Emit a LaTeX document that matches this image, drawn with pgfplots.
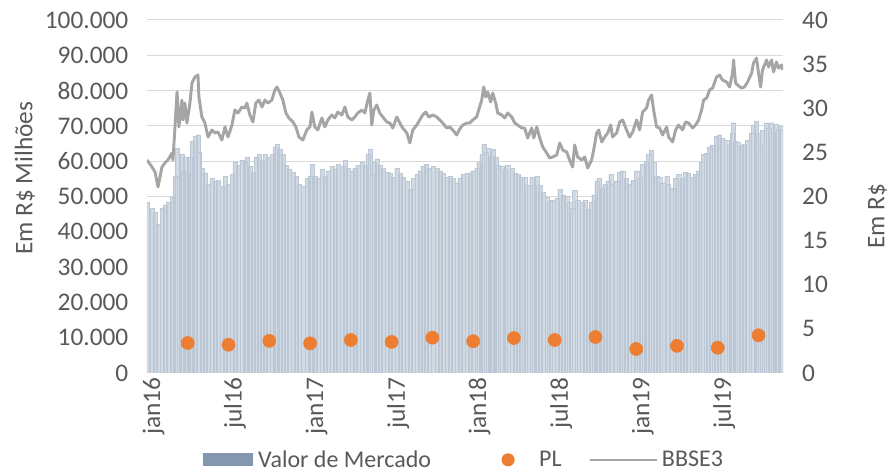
\documentclass[border=0pt]{standalone}
\usepackage{fontspec}
\setmainfont{Carlito}
\usepackage{pgfplots}
\usepackage{pgfplotstable}
\pgfplotsset{compat=1.18}
\definecolor{txt}{HTML}{595959}
\definecolor{gridc}{HTML}{D9D9D9}
\definecolor{barfill}{HTML}{D1D9E3}
\definecolor{barline}{HTML}{BCC7D5}
\definecolor{legbar}{HTML}{8497B0}
\definecolor{plc}{HTML}{ED7D31}
\definecolor{linc}{HTML}{A5A5A5}

\pgfplotstableread{
m mv px
0.00 48300 24.14
0.37 46700 23.34
0.59 45500 22.78
0.81 42200 21.08
1.10 46700 23.34
1.32 47600 23.80
1.54 48300 24.14
1.84 49900 24.93
1.91 48300 24.14
2.06 55800 27.88
2.21 63700 31.84
2.35 55800 27.88
2.57 61900 30.93
2.65 57300 28.67
2.79 61200 30.59
2.94 56700 28.33
3.16 61200 30.59
3.31 65700 32.86
3.53 67100 33.54
3.75 67500 33.77
3.82 62500 31.27
4.04 58000 29.01
4.26 56700 28.33
4.49 53500 26.74
4.78 55100 27.54
5.00 54400 27.20
5.22 54600 27.31
5.51 52800 26.40
5.74 55800 27.88
5.96 53500 26.74
6.25 56200 28.10
6.47 59600 29.80
6.69 58900 29.46
6.99 60300 30.14
7.21 60100 30.03
7.35 61200 30.59
7.57 58500 29.24
7.79 56900 28.44
8.01 61200 30.59
8.24 61900 30.93
8.46 60300 30.14
8.68 61900 30.93
8.90 61200 30.59
9.19 61900 30.93
9.41 64100 32.07
9.56 64800 32.41
9.78 63500 31.73
10.00 61900 30.93
10.22 58900 29.46
10.44 57800 28.90
10.74 56900 28.44
10.96 55800 27.88
11.18 53500 26.74
11.47 52800 26.40
11.76 55100 27.54
11.99 55800 27.88
12.13 59100 29.57
12.35 55800 27.88
12.57 55100 27.54
12.87 57800 28.90
13.09 55800 27.88
13.31 57300 28.67
13.60 58500 29.24
13.82 57800 28.90
14.04 59100 29.57
14.34 58500 29.24
14.56 60300 30.14
14.78 58000 29.01
15.07 57300 28.67
15.29 58000 29.01
15.51 58900 29.46
15.81 59600 29.80
16.03 58900 29.46
16.25 61900 30.93
16.40 63500 31.73
16.54 56200 28.10
16.69 59600 29.80
16.91 60700 30.37
17.13 58900 29.46
17.35 58000 29.01
17.65 56900 28.44
17.87 56700 28.33
18.09 55500 27.76
18.38 58000 29.01
18.60 56700 28.33
18.82 55500 27.76
19.12 54400 27.20
19.34 52100 26.06
19.56 55100 27.54
19.85 56200 28.10
20.07 57300 28.67
20.29 58500 29.24
20.51 59100 29.57
20.74 58000 29.01
21.03 58500 29.24
21.32 58000 29.01
21.54 57300 28.67
21.76 56700 28.33
22.06 55500 27.76
22.28 55800 27.88
22.50 55100 27.54
22.79 53900 26.97
23.01 55300 27.65
23.24 56200 28.10
23.53 56700 28.33
23.75 56700 28.33
23.97 57300 28.67
24.26 58000 29.01
24.41 59600 29.80
24.63 61900 30.93
24.78 64800 32.41
24.93 62500 31.27
25.07 63700 31.84
25.29 61400 30.71
25.44 63500 31.73
25.66 61200 30.59
25.81 58900 29.46
26.10 58500 29.24
26.32 57800 28.90
26.54 58900 29.46
26.84 58000 29.01
27.06 56700 28.33
27.28 56200 28.10
27.57 55500 27.76
27.79 55500 27.76
28.01 53300 26.63
28.31 55500 27.76
28.46 53300 26.63
28.68 55800 27.88
28.90 53300 26.63
29.12 51200 25.61
29.41 49900 24.93
29.63 48700 24.36
29.85 49000 24.48
30.15 49400 24.70
30.37 52100 26.06
30.59 50500 25.27
30.88 50100 25.04
31.10 48300 24.14
31.32 46700 23.34
31.47 51700 25.84
31.69 49000 24.48
31.99 48300 24.14
32.21 49000 24.48
32.43 46500 23.23
32.72 48300 24.14
32.87 50500 25.27
33.09 54400 27.20
33.24 55100 27.54
33.46 52400 26.18
33.68 53500 26.74
33.90 54400 27.20
34.12 56200 28.10
34.26 53500 26.74
34.56 54400 27.20
34.78 56900 28.44
35.00 57300 28.67
35.29 55100 27.54
35.51 53500 26.74
35.74 54600 27.31
36.03 57300 28.67
36.25 55100 27.54
36.47 59100 29.57
36.76 60100 30.03
36.91 61900 30.93
37.13 63000 31.50
37.28 59600 29.80
37.50 55800 27.88
37.72 55500 27.76
37.94 53900 26.97
38.24 55800 27.88
38.38 53500 26.74
38.68 52400 26.18
38.90 55100 27.54
39.12 56200 28.10
39.41 55100 27.54
39.63 56900 28.44
39.85 56700 28.33
40.15 55500 27.76
40.37 56200 28.10
40.59 57300 28.67
40.81 59600 29.80
40.96 61900 30.93
41.18 62300 31.16
41.40 64100 32.07
41.62 64600 32.29
41.91 67100 33.54
42.13 67500 33.77
42.35 66400 33.20
42.65 65900 32.97
42.87 64800 32.41
43.09 68000 33.99
43.16 70900 35.47
43.31 65700 32.86
43.46 65300 32.63
43.75 64600 32.29
43.97 64800 32.41
44.19 65900 32.97
44.49 68000 33.99
44.63 70300 35.13
44.85 71400 35.69
45.00 68000 33.99
45.15 64800 32.41
45.29 68700 34.33
45.59 70900 35.47
45.74 69300 34.67
45.96 70900 35.47
46.10 68200 34.11
46.32 70500 35.24
46.47 69100 34.56
46.69 69800 34.90
46.76 68700 34.33
}\data

\pgfplotstableread{
m pl
3 8500
6 8000
9 9100
12 8400
15 9350
18 8800
21 10000
24 9000
27 9900
30 9350
33 10200
36 6800
39 7700
42 7150
45 10700
}\pldata

\begin{document}
\begin{tikzpicture}[font=\fontsize{19}{22}\selectfont, text=txt]
\begin{axis}[name=main,
  scale only axis, width=477pt, height=264.75pt,
  xmin=0, xmax=46.8, ymin=0, ymax=100000,
  axis x line*=bottom, axis y line*=left,
  x axis line style={draw=gridc, line width=0.75pt},
  y axis line style={draw=none},
  major tick length=0pt,
  ytick={0,10000,...,100000},
  ymajorgrids, grid style={draw=gridc, line width=0.75pt},
  scaled y ticks=false,
  yticklabel={\pgfmathprintnumber[fixed, precision=0, 1000 sep={.}, assume math mode=true]{\tick}},
  yticklabel style={xshift=-10.5pt},
  xtick={0,6,...,42},
  xticklabels={jan16,jul16,jan17,jul17,jan18,jul18,jan19,jul19},
  xticklabel style={rotate=90, anchor=east, yshift=-4.9pt},
  ylabel={Em R\$ Milhões},
  every axis y label/.style={at={(axis description cs:-0.192,0.552)}, anchor=center, rotate=90},
  tick label style={font=\fontsize{19}{22}\selectfont, text=txt},
  label style={font=\fontsize{19}{22}\selectfont, text=txt},
  clip=true,
]
\addplot[ybar, bar width=0.3, fill=barfill, draw=barline, line width=0.2pt] table[x=m,y=mv]{\data};
\addplot[only marks, mark=*, mark size=4.9pt, color=plc, mark options={fill=plc, draw=plc}] table[x=m,y=pl]{\pldata};
\end{axis}
\begin{axis}[
  scale only axis, width=477pt, height=264.75pt,
  xmin=0, xmax=46.8, ymin=0, ymax=40,
  axis x line=none, axis y line*=right,
  y axis line style={draw=none},
  major tick length=0pt,
  ytick={0,5,...,40},
  yticklabel={\pgfmathprintnumber[fixed, precision=0, assume math mode=true]{\tick}},
  yticklabel style={xshift=10.9pt},
  ylabel={Em R\$},
  every axis y label/.style={at={(axis description cs:1.149,0.445)}, anchor=center, rotate=90},
  tick label style={font=\fontsize{19}{22}\selectfont, text=txt},
  label style={font=\fontsize{19}{22}\selectfont, text=txt},
  legend style={at={(0.088,-0.246)}, anchor=west, legend columns=3, draw=none, fill=none,
    inner sep=0pt, nodes={inner sep=3pt}, font=\fontsize{18}{21}\selectfont, text=txt,
    /tikz/column sep=0pt,
    /tikz/every even column/.style={column sep=0pt},
    /tikz/every odd column/.style={column sep=0pt}},
]
\addlegendimage{legend image code/.code={\path[draw=none,fill=none] (0pt,0pt) -- (38.25pt,0pt); \fill[legbar,draw=none] (0pt,-4.9pt) rectangle (37.5pt,4.9pt);}}
\addlegendentry{Valor de Mercado}
\addlegendimage{legend image code/.code={\path[draw=none,fill=none] (0pt,0pt) -- (75pt,0pt); \fill[plc,draw=none] (54.75pt,0pt) circle (4.9pt);}}
\addlegendentry{PL}
\addplot[color=linc, line width=2.2pt, line join=round, legend image code/.code={\path[draw=none,fill=none] (0pt,0pt) -- (69pt,0pt); \draw[linc, line width=1.5pt] (18pt,0pt) -- (68.5pt,0pt);}] table[x=m,y=px]{\data};
\addlegendentry{BBSE3}
\end{axis}
\path ([shift={(-110.25pt,-72pt)}]main.south west) rectangle ([shift={(559.5pt,279.75pt)}]main.south west);
\end{tikzpicture}
\end{document}
